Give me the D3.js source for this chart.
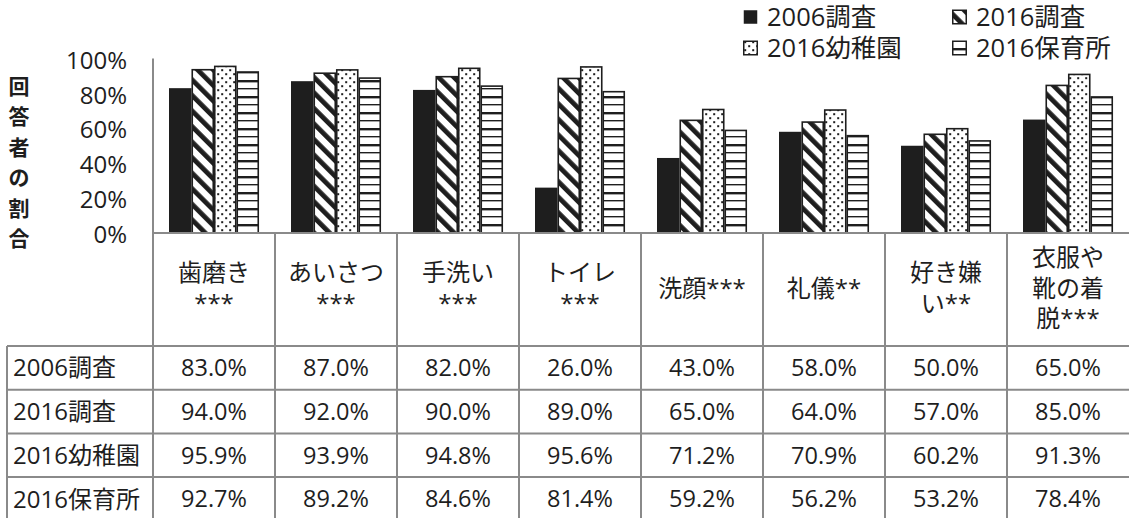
<!DOCTYPE html>
<html>
<head>
<meta charset="utf-8">
<script src="https://cdn.jsdelivr.net/npm/d3@7"></script>
<style>
  html, body { margin: 0; padding: 0; background: #fff; }
  svg { display: block; }
  text { font-family: "Open Sans", "Noto Sans CJK JP", sans-serif; fill: #1e1e1e; }
</style>
</head>
<body>
<svg id="chart" width="1129" height="518"></svg>
<script>
// Categories (habits) and their label lines in the header row
const categories = ["歯磨き", "あいさつ", "手洗い", "トイレ", "洗顔", "礼儀", "好き嫌い", "衣服や靴の着脱"];
const categoryLines = [
  ["歯磨き", "***"],
  ["あいさつ", "***"],
  ["手洗い", "***"],
  ["トイレ", "***"],
  ["洗顔***"],
  ["礼儀**"],
  ["好き嫌", "い**"],
  ["衣服や", "靴の着", "脱***"]
];

// Series
const seriesNames = ["2006調査", "2016調査", "2016幼稚園", "2016保育所"];
const survey2006 = [0.830, 0.870, 0.820, 0.260, 0.430, 0.580, 0.500, 0.650];
const survey2016 = [0.940, 0.920, 0.900, 0.890, 0.650, 0.640, 0.570, 0.850];
const kindergarten2016 = [0.959, 0.939, 0.948, 0.956, 0.712, 0.709, 0.602, 0.913];
const nursery2016 = [0.927, 0.892, 0.846, 0.814, 0.592, 0.562, 0.532, 0.784];
const seriesValues = [survey2006, survey2016, kindergarten2016, nursery2016];

const yTicks = [0, 0.2, 0.4, 0.6, 0.8, 1.0];
const yTitle = "回答者の割合";

const svg = d3.select("#chart");
const W = 1129, H = 518;

const plotLeft = 153, plotRight = 1129;
const baseY = 233, topY = 58.5;
const gridColor = "#8a8a8a";
const ink = "#1e1e1e";

// ---- fill patterns ----
const defs = svg.append("defs");

const diag = defs.append("pattern")
  .attr("id", "pat-diag")
  .attr("patternUnits", "userSpaceOnUse")
  .attr("width", 11).attr("height", 11)
  .attr("patternTransform", "rotate(-45)");
diag.append("rect").attr("width", 11).attr("height", 11).attr("fill", "#fff");
diag.append("rect").attr("x", 0).attr("width", 4.8).attr("height", 11).attr("fill", ink);

const dots = defs.append("pattern")
  .attr("id", "pat-dots")
  .attr("patternUnits", "userSpaceOnUse")
  .attr("width", 8).attr("height", 8);
dots.append("rect").attr("width", 8).attr("height", 8).attr("fill", "#fff");
dots.append("rect").attr("x", 1.2).attr("y", 1.2).attr("width", 2).attr("height", 2).attr("fill", ink);
dots.append("rect").attr("x", 5.2).attr("y", 5.2).attr("width", 2).attr("height", 2).attr("fill", ink);

const hlines = defs.append("pattern")
  .attr("id", "pat-hlines")
  .attr("patternUnits", "userSpaceOnUse")
  .attr("width", 16).attr("height", 16);
hlines.append("rect").attr("width", 16).attr("height", 16).attr("fill", "#fff");
hlines.append("rect").attr("y", 0).attr("width", 16).attr("height", 2.4).attr("fill", ink);
hlines.append("rect").attr("y", 8).attr("width", 16).attr("height", 1.4).attr("fill", ink);

const fills = [ink, "url(#pat-diag)", "url(#pat-dots)", "url(#pat-hlines)"];

// ---- scales ----
const x = d3.scaleBand().domain(categories).range([plotLeft, plotRight]).paddingInner(0).paddingOuter(0);
const groupPad = 16;
const xs = d3.scaleBand().domain(seriesNames).range([groupPad, x.bandwidth() - groupPad]).padding(0);
const y = d3.scaleLinear().domain([0, 1]).range([baseY, topY]);

// ---- bars ----
const barData = [];
categories.forEach((c, i) => {
  seriesNames.forEach((s, j) => {
    barData.push({ cat: c, series: s, j, value: seriesValues[j][i] });
  });
});

svg.append("g").selectAll("rect")
  .data(barData)
  .join("rect")
  .attr("x", d => x(d.cat) + xs(d.series) + (d.j === 0 ? 0 : 0.75))
  .attr("y", d => y(d.value) + (d.j === 0 ? 0 : 0.75))
  .attr("width", d => xs.bandwidth() - (d.j === 0 ? 0 : 1.5))
  .attr("height", d => baseY - y(d.value) - (d.j === 0 ? 0 : 0.75))
  .attr("fill", d => fills[d.j])
  .attr("stroke", d => d.j === 0 ? "none" : ink)
  .attr("stroke-width", 1.6);

// ---- y axis ----
const yAxis = d3.axisLeft(y).tickValues(yTicks).tickFormat(d3.format(".0%")).tickSize(0).tickPadding(0);
const gy = svg.append("g").attr("transform", "translate(127,1)").call(yAxis);
gy.select(".domain").remove();
gy.selectAll("text")
  .style("font-size", "24px")
  .attr("dy", "0.36em")
  .attr("fill", ink);

// vertical axis / table divider
svg.append("line")
  .attr("x1", plotLeft).attr("x2", plotLeft)
  .attr("y1", topY).attr("y2", H)
  .attr("stroke", gridColor).attr("stroke-width", 2);

// y axis title, stacked one character per row
svg.append("g").selectAll("text")
  .data(Array.from(yTitle))
  .join("text")
  .attr("x", 19)
  .attr("y", (d, i) => 86 + i * 30.5)
  .attr("dy", "0.36em")
  .attr("text-anchor", "middle")
  .style("font-size", "21px")
  .style("font-weight", "bold")
  .style("font-family", "'Noto Sans CJK JP', sans-serif")
  .text(d => d);

// ---- data table ----
const rowTop = 346, rowH = 43.7;
const tableLeft = 7;
const lines = svg.append("g").attr("stroke", gridColor).attr("stroke-width", 2);

// x-axis baseline
lines.append("line")
  .attr("x1", plotLeft).attr("x2", plotRight)
  .attr("y1", baseY).attr("y2", baseY);

// column dividers
categories.slice(1).forEach(c => {
  lines.append("line")
    .attr("x1", x(c)).attr("x2", x(c))
    .attr("y1", baseY).attr("y2", H);
});

// row dividers
seriesNames.forEach((s, j) => {
  lines.append("line")
    .attr("x1", tableLeft).attr("x2", plotRight)
    .attr("y1", rowTop + j * rowH).attr("y2", rowTop + j * rowH);
});
lines.append("line")
  .attr("x1", tableLeft).attr("x2", tableLeft)
  .attr("y1", rowTop).attr("y2", H);

// category header labels
const headerMid = 288, headerLineH = 30.5;
categories.forEach((c, i) => {
  const ls = categoryLines[i];
  const t = svg.append("text")
    .attr("text-anchor", "middle")
    .style("font-size", "24px");
  ls.forEach((ln, k) => {
    t.append("tspan")
      .attr("x", x(c) + x.bandwidth() / 2)
      .attr("y", headerMid + (k - (ls.length - 1) / 2) * headerLineH)
      .attr("dy", "0.36em")
      .text(ln);
  });
});

// row labels and values
const fmt = d3.format(".1%");
seriesNames.forEach((s, j) => {
  const cy = rowTop + j * rowH + rowH / 2;
  svg.append("text")
    .attr("x", 13).attr("y", cy).attr("dy", "0.36em")
    .style("font-size", "24px")
    .text(s);
  svg.append("g").selectAll("text")
    .data(seriesValues[j])
    .join("text")
    .attr("x", (d, i) => x(categories[i]) + x.bandwidth() / 2)
    .attr("y", cy).attr("dy", "0.36em")
    .attr("text-anchor", "middle")
    .style("font-size", "23.5px")
    .text(d => fmt(d));
});

// ---- legend ----
const legendPos = [[743, 17], [952, 17], [743, 48], [952, 48]];
seriesNames.forEach((s, j) => {
  const [lx, ly] = legendPos[j];
  const g = svg.append("g").attr("transform", `translate(${lx},${ly})`);
  g.append("rect")
    .attr("x", 0.75).attr("y", -6.75)
    .attr("width", 13.5).attr("height", 13.5)
    .attr("fill", fills[j])
    .attr("stroke", ink)
    .attr("stroke-width", j === 0 ? 0 : 1.5);
  g.append("text")
    .attr("x", 24).attr("y", 0).attr("dy", "0.36em")
    .style("font-size", "25.5px")
    .text(s);
});
</script>
</body>
</html>
